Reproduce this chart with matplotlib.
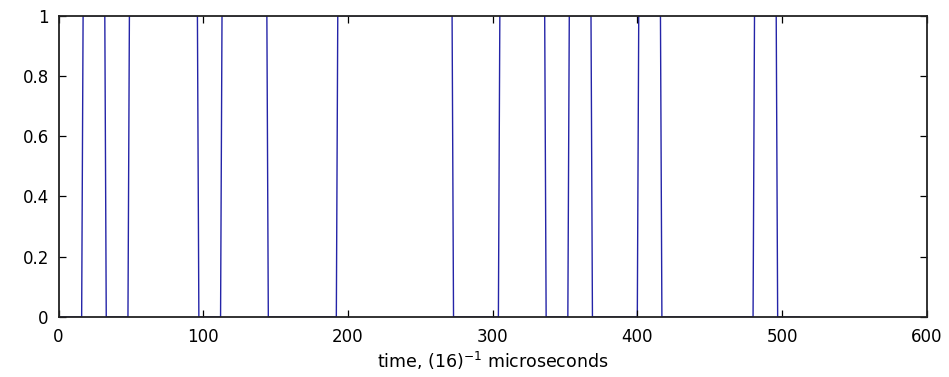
import numpy as np
import matplotlib
matplotlib.use('Agg')
import matplotlib.pyplot as plt

# one value per bit, 16 samples per bit
bits = [0, 1, 0, 1, 1, 1, 0, 1, 1, 0, 0, 0, 1, 1, 1, 1,
        1, 0, 0, 1, 1, 0, 1, 0, 0, 1, 0, 0, 0, 0, 1, 0]
samples_per_bit = 16

x = np.repeat(bits, samples_per_bit)
t = np.arange(1, len(x) + 1)

plt.rcParams['font.family'] = ['DejaVu Sans']
plt.rcParams['mathtext.default'] = 'regular'

fig = plt.figure(figsize=(9.49, 3.77), dpi=100)
ax = fig.add_axes([58.5 / 949, 1 - 317 / 377, (926.7 - 58.5) / 949, (317 - 15.7) / 377])

ax.plot(t, x, color='#2424a8', linewidth=1.0, zorder=1)

ax.set_xlim(0, 600)
ax.set_ylim(0, 1)
ax.set_xticks(np.arange(0, 601, 100))
ax.set_yticks(np.arange(0, 1.01, 0.2))
ax.set_yticklabels(['0', '0.2', '0.4', '0.6', '0.8', '1'])
ax.tick_params(direction='in', length=5, width=0.9, top=True, right=True,
               labelsize=12, colors='black', pad=7)
ax.tick_params(axis='x', pad=8)
for s in ax.spines.values():
    s.set_linewidth(1.3)
    s.set_color('#222222')
    s.set_zorder(3)

ax.set_xlabel('time, (16)$^{-1}$ microseconds', fontsize=12.5, labelpad=3)

fig.savefig('out.png', dpi=100)
